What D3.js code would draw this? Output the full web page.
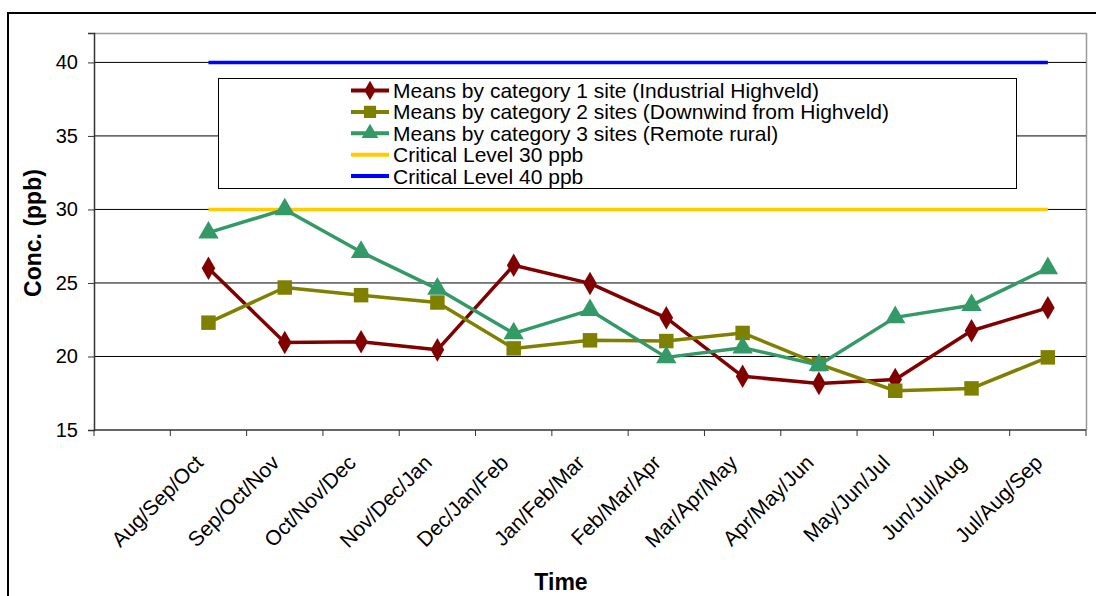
<!DOCTYPE html>
<html>
<head>
<meta charset="utf-8">
<script src="https://cdn.jsdelivr.net/npm/d3@7"></script>
<style>
  html, body { margin: 0; padding: 0; background: #fff; }
  svg { display: block; font-family: "Liberation Sans", Arial, sans-serif; }
</style>
</head>
<body>
<svg id="chart" width="1096" height="596"></svg>
<script>
// Three-month running periods; the first slot on the axis is left empty.
const categories = ["", "Aug/Sep/Oct", "Sep/Oct/Nov", "Oct/Nov/Dec", "Nov/Dec/Jan", "Dec/Jan/Feb",
  "Jan/Feb/Mar", "Feb/Mar/Apr", "Mar/Apr/May", "Apr/May/Jun", "May/Jun/Jul",
  "Jun/Jul/Aug", "Jul/Aug/Sep"];
const periods = categories.slice(1);

// Mean concentrations (ppb)
const cat1 = [26.0, 20.95, 21.0, 20.45, 26.2, 24.97, 22.63, 18.65, 18.17, 18.44, 21.75, 23.31];
const cat2 = [22.3, 24.69, 24.17, 23.67, 20.55, 21.1, 21.05, 21.6, 19.48, 17.67, 17.83, 19.94];
const cat3 = [28.42, 30.0, 27.1, 24.6, 21.57, 23.15, 19.94, 20.6, 19.42, 22.66, 23.49, 26.0];

// Critical levels (ppb)
const critical30 = periods.map(() => 30);
const critical40 = periods.map(() => 40);

const yTicks = [15, 20, 25, 30, 35, 40];

const seriesNames = [
  "Means by category 1 site (Industrial Highveld)",
  "Means by category 2 sites (Downwind from Highveld)",
  "Means by category 3 sites (Remote rural)",
  "Critical Level 30 ppb",
  "Critical Level 40 ppb"
];

const svg = d3.select("#chart");

// Outer chart frame
svg.append("path")
  .attr("d", "M8,600 V13 H1100")
  .attr("fill", "none").attr("stroke", "#000").attr("stroke-width", 2);

const plot = { left: 94, top: 33, right: 1086, bottom: 430 };

const x = d3.scaleBand().domain(categories).range([plot.left, plot.right]).paddingInner(0).paddingOuter(0);
const y = d3.scaleLinear().domain([15, 42]).range([plot.bottom, plot.top]);
const cx = c => x(c) + x.bandwidth() / 2;

// Plot area border (top and right)
svg.append("path")
  .attr("d", `M${plot.left},${plot.top + 0.5} H${plot.right + 0.5} V${plot.bottom}`)
  .attr("fill", "none").attr("stroke", "#999").attr("stroke-width", 1.5);

// Horizontal gridlines
svg.append("g").selectAll("line")
  .data(yTicks.filter(t => t > 15))
  .join("line")
  .attr("x1", plot.left).attr("x2", plot.right)
  .attr("y1", d => y(d)).attr("y2", d => y(d))
  .attr("stroke", "#000").attr("stroke-width", 1);

// Y axis
const yAxis = svg.append("g")
  .attr("transform", `translate(${plot.left},0)`)
  .call(d3.axisLeft(y).tickValues(yTicks).tickSize(6).tickPadding(10));
yAxis.select(".domain").attr("stroke", "#333").attr("stroke-width", 1.5);
yAxis.selectAll(".tick line").attr("stroke", "#333");
yAxis.selectAll(".tick text").attr("font-size", 20).attr("fill", "#000")
  .attr("font-family", "Liberation Sans, Arial, sans-serif");

// X axis with ticks at band boundaries
const xAxisG = svg.append("g").attr("transform", `translate(0,${plot.bottom})`);
xAxisG.append("line")
  .attr("x1", plot.left).attr("x2", plot.right)
  .attr("stroke", "#333").attr("stroke-width", 1.5);
xAxisG.selectAll("line.tk")
  .data(categories.concat(["__end"]))
  .join("line").attr("class", "tk")
  .attr("x1", (d, i) => i < categories.length ? x(d) : plot.right)
  .attr("x2", (d, i) => i < categories.length ? x(d) : plot.right)
  .attr("y1", 0).attr("y2", 6)
  .attr("stroke", "#333").attr("stroke-width", 1);
xAxisG.selectAll("text")
  .data(periods)
  .join("text")
  .attr("transform", d => `translate(${cx(d) - 4},${34}) rotate(-45)`)
  .attr("text-anchor", "end")
  .attr("font-size", 21)
  .attr("fill", "#000")
  .text(d => d);

// Axis titles
svg.append("text")
  .attr("transform", `translate(41,233) rotate(-90)`)
  .attr("text-anchor", "middle")
  .attr("font-size", 23).attr("font-weight", "bold")
  .text("Conc. (ppb)");
svg.append("text")
  .attr("x", 561).attr("y", 590)
  .attr("text-anchor", "middle")
  .attr("font-size", 23).attr("font-weight", "bold")
  .text("Time");

const line = d3.line().x((d, i) => cx(periods[i])).y(d => y(d));

// Critical level lines
svg.append("path").datum(critical30).attr("d", line)
  .attr("fill", "none").attr("stroke", "#FFCC00").attr("stroke-width", 3.5);
svg.append("path").datum(critical40).attr("d", line)
  .attr("fill", "none").attr("stroke", "#0000FF").attr("stroke-width", 3.5);

const series = [
  { data: cat1, color: "#800000", symbol: d3.symbolDiamond, size: 160 },
  { data: cat2, color: "#808000", symbol: d3.symbolSquare, size: 210 },
  { data: cat3, color: "#339966", symbol: d3.symbolTriangle, size: 180 }
];

series.forEach(s => {
  svg.append("path").datum(s.data).attr("d", line)
    .attr("fill", "none").attr("stroke", s.color).attr("stroke-width", 3.5)
    .attr("stroke-linejoin", "round");
  svg.append("g").selectAll("path")
    .data(s.data)
    .join("path")
    .attr("transform", (d, i) => `translate(${cx(periods[i])},${y(d)})`)
    .attr("d", d3.symbol().type(s.symbol).size(s.size))
    .attr("fill", s.color);
});

// Legend
const legend = svg.append("g");
legend.append("rect")
  .attr("x", 218.5).attr("y", 78.5).attr("width", 798).attr("height", 110)
  .attr("fill", "#fff").attr("stroke", "#000").attr("stroke-width", 1);

const legendColors = ["#800000", "#808000", "#339966", "#FFCC00", "#0000FF"];
const legendSymbols = [d3.symbolDiamond, d3.symbolSquare, d3.symbolTriangle, null, null];
const legendSizes = [110, 150, 120, 0, 0];
const rowY = i => 90.5 + i * 21.4;

legendColors.forEach((c, i) => {
  const g = legend.append("g").attr("transform", `translate(0,${rowY(i)})`);
  g.append("line").attr("x1", 351).attr("x2", 389).attr("y1", 0).attr("y2", 0)
    .attr("stroke", c).attr("stroke-width", 4);
  if (legendSymbols[i]) {
    g.append("path").attr("transform", "translate(370,0)")
      .attr("d", d3.symbol().type(legendSymbols[i]).size(legendSizes[i]))
      .attr("fill", c);
  }
  g.append("text").attr("x", 393).attr("y", 0).attr("dy", "0.36em")
    .attr("font-size", 21).attr("fill", "#000")
    .text(seriesNames[i]);
});
</script>
</body>
</html>
